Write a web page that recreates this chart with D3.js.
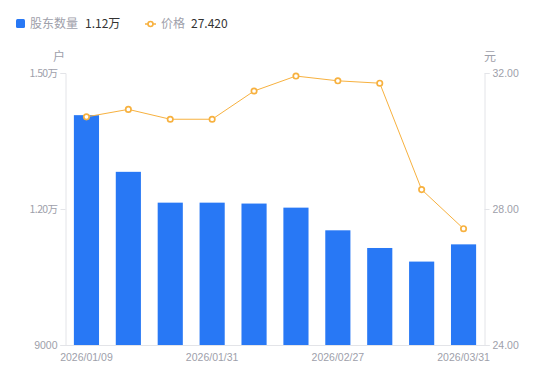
<!DOCTYPE html>
<html><head><meta charset="utf-8">
<script src="https://cdn.jsdelivr.net/npm/d3@7"></script>
<style>body{margin:0;background:#fff}text{font-family:"Noto Sans CJK SC","Noto Sans",sans-serif}</style>
</head><body><svg id="c" width="550" height="381"></svg>
<script>
const categories = ["2026/01/09","2026/01/16","2026/01/23","2026/01/31","2026/02/10","2026/02/20","2026/02/27","2026/03/10","2026/03/20","2026/03/31"];
const holders = [14070, 12820, 12140, 12140, 12120, 12030, 11530, 11140, 10840, 11220];
const prices = [30.71, 30.93, 30.64, 30.64, 31.47, 31.91, 31.77, 31.70, 28.57, 27.42];
const leftTicks = [9000, 12000, 15000];
const leftTickLabels = ["9000", "1.20万", "1.50万"];
const rightTicks = [24, 28, 32];
const shownLabels = ["2026/01/09","2026/01/31","2026/02/27","2026/03/31"];

const svg = d3.select("#c");
const L = 65.5, R = 484.5, T = 73, B = 345;
const gray = "#9ea0aa", axisCol = "#e3e4e8";
const barCol = "#2878f5", lineCol = "#f7b13f";

const x = d3.scaleBand().domain(categories).range([L, R]).paddingInner(0.4).paddingOuter(0.2);
const yL = d3.scaleLinear().domain([9000, 15000]).range([B, T]);
const yR = d3.scaleLinear().domain([24, 32]).range([B, T]);

// axes
const gL = svg.append("g").attr("transform", `translate(${L},0)`)
  .call(d3.axisLeft(yL).tickValues(leftTicks).tickFormat((d,i)=>leftTickLabels[i]).tickSize(5).tickPadding(3));
const gR = svg.append("g").attr("transform", `translate(${R},0)`)
  .call(d3.axisRight(yR).tickValues(rightTicks).tickFormat(d3.format(".2f")).tickSize(5).tickPadding(3));
const gB = svg.append("g").attr("transform", `translate(0,${B + 0.5})`)
  .call(d3.axisBottom(x).tickValues(shownLabels).tickSize(0).tickPadding(8));
[gL, gR, gB].forEach(g => {
  g.selectAll("path").attr("stroke", axisCol);
  g.selectAll("line").attr("stroke", axisCol);
  g.selectAll("text").attr("fill", gray).style("font-family", '"Liberation Sans",Arial,sans-serif').attr("font-size", 10.5);
});
gB.select("path").attr("d", `M${L-5},0H${R+5}`);
gL.selectAll("text").each(function(){ const t=d3.select(this); if(t.text().includes("万")) t.style("font-family",'"Noto Sans CJK SC",sans-serif').attr("letter-spacing","-0.6"); });

// unit labels
svg.append("text").attr("x", 59).attr("y", 61).attr("text-anchor","middle").attr("fill", gray).attr("font-size", 12).text("户");
svg.append("text").attr("x", 490).attr("y", 61).attr("text-anchor","middle").attr("fill", gray).attr("font-size", 12).text("元");

// bars
svg.append("g").selectAll("rect").data(holders).join("rect")
  .attr("x", (d,i)=>x(categories[i])).attr("width", x.bandwidth())
  .attr("y", d=>yL(d)).attr("height", d=>B - yL(d))
  .attr("fill", barCol);

// line
const cx = i => x(categories[i]) + x.bandwidth()/2;
svg.append("path").datum(prices)
  .attr("d", d3.line().x((d,i)=>cx(i)).y(d=>yR(d)))
  .attr("fill","none").attr("stroke", lineCol).attr("stroke-width", 1);
svg.append("g").selectAll("circle").data(prices).join("circle")
  .attr("cx",(d,i)=>cx(i)).attr("cy", d=>yR(d)).attr("r", 2.7)
  .attr("fill","#fff").attr("stroke", lineCol).attr("stroke-width", 1.7);

// legend
const lg = svg.append("g");
lg.append("rect").attr("x", 16).attr("y", 19).attr("width", 9).attr("height", 9).attr("rx", 1.5).attr("fill", barCol);
lg.append("text").attr("x", 30).attr("y", 28).attr("fill", gray).attr("font-size", 12).text("股东数量");
lg.append("text").attr("x", 85).attr("y", 28).attr("fill", "#333").attr("font-size", 12).text("1.12万");
lg.append("line").attr("x1", 145).attr("x2", 156).attr("y1", 24).attr("y2", 24).attr("stroke", lineCol).attr("stroke-width", 1.5);
lg.append("circle").attr("cx", 150.5).attr("cy", 24).attr("r", 2.5).attr("fill", "#fff").attr("stroke", lineCol).attr("stroke-width", 1.6);
lg.append("text").attr("x", 161).attr("y", 28).attr("fill", gray).attr("font-size", 12).text("价格");
lg.append("text").attr("x", 191).attr("y", 28).attr("fill", "#333").attr("font-size", 12).text(d3.format(".3f")(prices[prices.length-1]));
</script></body></html>
